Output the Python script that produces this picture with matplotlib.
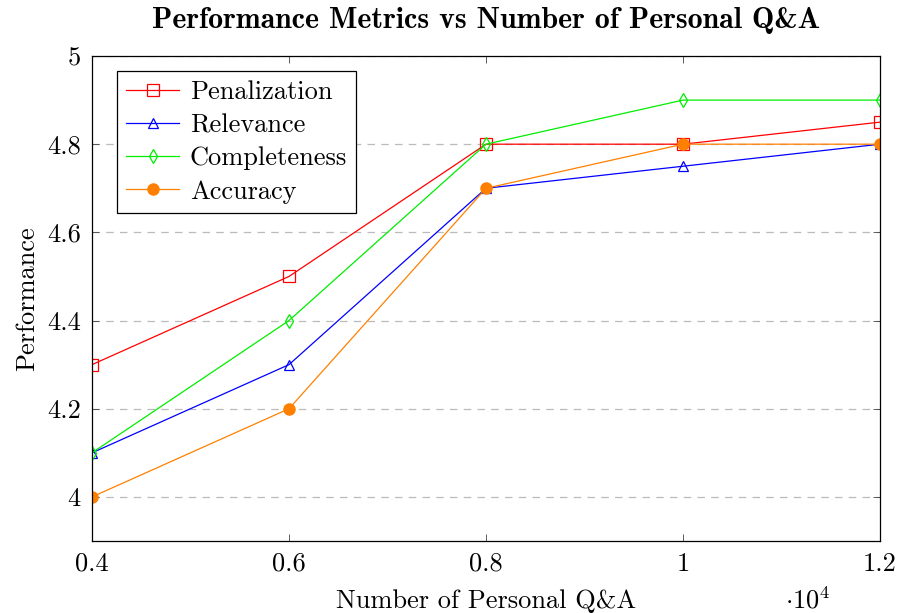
import numpy as np
import matplotlib.pyplot as plt

plt.rcParams['font.family'] = ['cmr10', 'DejaVu Serif']
plt.rcParams['mathtext.fontset'] = 'cm'
plt.rcParams['axes.formatter.use_mathtext'] = True

# Data
qa_count = [4000, 6000, 8000, 10000, 12000]
penalization = [4.3, 4.5, 4.8, 4.8, 4.85]
relevance = [4.1, 4.3, 4.7, 4.75, 4.8]
completeness = [4.1, 4.4, 4.8, 4.9, 4.9]
accuracy = [4.0, 4.2, 4.7, 4.8, 4.8]

x_ticks = [0.4, 0.6, 0.8, 1.0, 1.2]
x_tick_labels = ['0.4', '0.6', '0.8', '1', '1.2']
y_ticks = [4.0, 4.2, 4.4, 4.6, 4.8, 5.0]
y_tick_labels = ['4', '4.2', '4.4', '4.6', '4.8', '5']

x = np.array(qa_count) / 1e4

fig = plt.figure(figsize=(8.99, 6.13), dpi=100)
ax = fig.add_axes([92 / 899, 1 - 541 / 613, (880 - 92) / 899, (541 - 56) / 613])

ax.plot(x, penalization, color='red', lw=0.9, marker='s', ms=8,
        mfc='none', mec='red', mew=0.9, label='Penalization')
ax.plot(x, relevance, color='blue', lw=0.9, marker='^', ms=7,
        mfc='none', mec='blue', mew=0.9, label='Relevance')
ax.plot(x, completeness, color='#00ee00', lw=0.9, marker='d', ms=7,
        mfc='none', mec='#00ee00', mew=0.9, label='Completeness')
ax.plot(x, accuracy, color='#ff8000', lw=0.9, marker='o', ms=8,
        mfc='#ff8000', mec='#ff8000', label='Accuracy')

ax.set_xlim(0.4, 1.2)
ax.set_ylim(3.9, 5.0)
ax.set_xticks(x_ticks)
ax.set_xticklabels(x_tick_labels)
ax.set_yticks(y_ticks)
ax.set_yticklabels(y_tick_labels)
ax.tick_params(direction='in', top=True, right=True, labelsize=19,
               length=5, width=0.6, color='#444444', pad=8)
ax.grid(axis='y', linestyle=(0, (6, 5)), color='#bbbbbb', lw=0.9)
for s in ax.spines.values():
    s.set_linewidth(0.9)

ax.set_xlabel('Number of Personal Q&A', fontsize=19, labelpad=10)
ax.set_ylabel('Performance', fontsize=19, labelpad=6)
ax.set_title('Performance Metrics vs Number of Personal Q&A',
             fontsize=21.5, fontfamily='cmb10', pad=20)
fig.text(808 / 899, 1 - 600 / 613, r'$\cdot 10^4$', fontsize=19,
         ha='center', va='center')

leg = ax.legend(loc='upper left', bbox_to_anchor=(0.032, 0.969),
                fontsize=19, fancybox=False, edgecolor='black',
                framealpha=1, handlelength=2.0, borderpad=0.35,
                labelspacing=0.36, handletextpad=0.4, borderaxespad=0)
leg.get_frame().set_linewidth(0.9)

fig.savefig('out.png', dpi=100)
